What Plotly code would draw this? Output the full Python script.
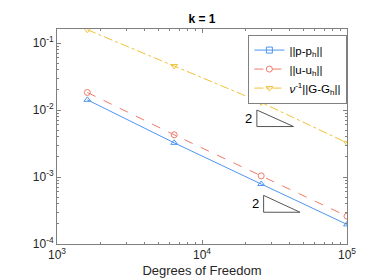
import plotly.graph_objects as go
import numpy as np

dof = [1620, 6430, 25600, 100000]
err_p = [0.0142, 0.00324, 0.000786, 0.000196]
err_u = [0.0183, 0.00427, 0.00104, 0.00026]
err_G = [0.158, 0.0455, 0.013, 0.00324]

names = ["||p-p<sub>h</sub>||", "||u-u<sub>h</sub>||", "<i>ν</i><sup>-1</sup>||G-G<sub>h</sub>||"]
title = "<b>k = 1</b>"
xlabel = "Degrees of Freedom"

# slope triangles (x: left, right ; y: top, bottom)
tri1_x = [23900, 42800]
tri1_y = [0.01, 0.00567]
tri2_x = [26600, 47400]
tri2_y = [0.000532, 0.000298]
slope_label = "2"

xticks = [1e3, 1e4, 1e5]
xticktext = ["10<sup>3</sup>", "10<sup>4</sup>", "10<sup>5</sup>"]
yticks = [1e-4, 1e-3, 1e-2, 1e-1]
yticktext = ["10<sup>-4</sup>", "10<sup>-3</sup>", "10<sup>-2</sup>", "10<sup>-1</sup>"]

blue = "#4f95f2"
red = "#ef7a68"
yellow = "#f2c236"
axc = "#808080"

fig = go.Figure()
series = [
    (err_p, blue, "solid", "triangle-up-open", "square-open"),
    (err_u, red, "dash", "circle-open", "circle-open"),
    (err_G, yellow, "dashdot", "triangle-down-open", "triangle-down-open"),
]
for (vals, col, dash, sym, legsym), nm in zip(series, names):
    fig.add_trace(go.Scatter(x=dof, y=vals, mode="lines+markers", showlegend=False,
                             line=dict(color=col, width=1, dash=dash),
                             marker=dict(symbol=sym, size=6, color=col, line=dict(width=1, color=col))))
    fig.add_trace(go.Scatter(x=[None], y=[None], mode="lines+markers", name=nm,
                             line=dict(color=col, width=1, dash=dash),
                             marker=dict(symbol=legsym, size=6, color=col, line=dict(width=1, color=col))))

for tx, ty in [(tri1_x, tri1_y), (tri2_x, tri2_y)]:
    fig.add_trace(go.Scatter(x=[tx[0], tx[0], tx[1], tx[0]], y=[ty[0], ty[1], ty[1], ty[0]],
                             mode="lines", showlegend=False, hoverinfo="skip",
                             line=dict(color="#555555", width=1)))
    fig.add_annotation(x=np.log10(tx[0]), y=np.log10((ty[0] * ty[1]) ** 0.5), text=slope_label,
                       showarrow=False, xanchor="right", xshift=-3,
                       font=dict(size=13, color="black", family="Liberation Sans"))

minor_x = [m * 10 ** k for k in range(3, 5) for m in range(2, 10)]
minor_y = [m * 10.0 ** k for k in range(-4, 0) for m in range(2, 10)]

axis_common = dict(type="log", showgrid=False, zeroline=False, showline=True, linecolor=axc,
                   linewidth=1, mirror="ticks", ticks="inside", ticklen=4, tickcolor=axc,
                   tickfont=dict(size=12, color="#262626", family="Liberation Sans"))

fig.update_xaxes(**axis_common, range=[3, 5], tickvals=xticks, ticktext=xticktext,
                 minor=dict(tickvals=minor_x, ticks="inside", ticklen=2, tickcolor=axc),
                 title=dict(text=xlabel, font=dict(size=13, color="#262626", family="Liberation Sans"), standoff=4))
fig.update_yaxes(**axis_common, range=[-4, -0.79], tickvals=yticks, ticktext=yticktext,
                 minor=dict(tickvals=minor_y, ticks="inside", ticklen=2, tickcolor=axc))

fig.update_layout(
    width=374, height=280,
    margin=dict(l=49, r=35, t=21, b=42),
    plot_bgcolor="white", paper_bgcolor="white",
    title=dict(text=title, x=0.5, xanchor="center", xref="paper", y=0.975, yanchor="top",
               font=dict(size=12, color="black", family="Liberation Sans")),
    legend=dict(x=0.66, y=0.974, xanchor="left", yanchor="top", bordercolor=axc, borderwidth=1,
                bgcolor="white", font=dict(size=11.5, color="black", family="Liberation Sans"),
                itemwidth=30),
    showlegend=True,
)

fig.write_html("out.html")
